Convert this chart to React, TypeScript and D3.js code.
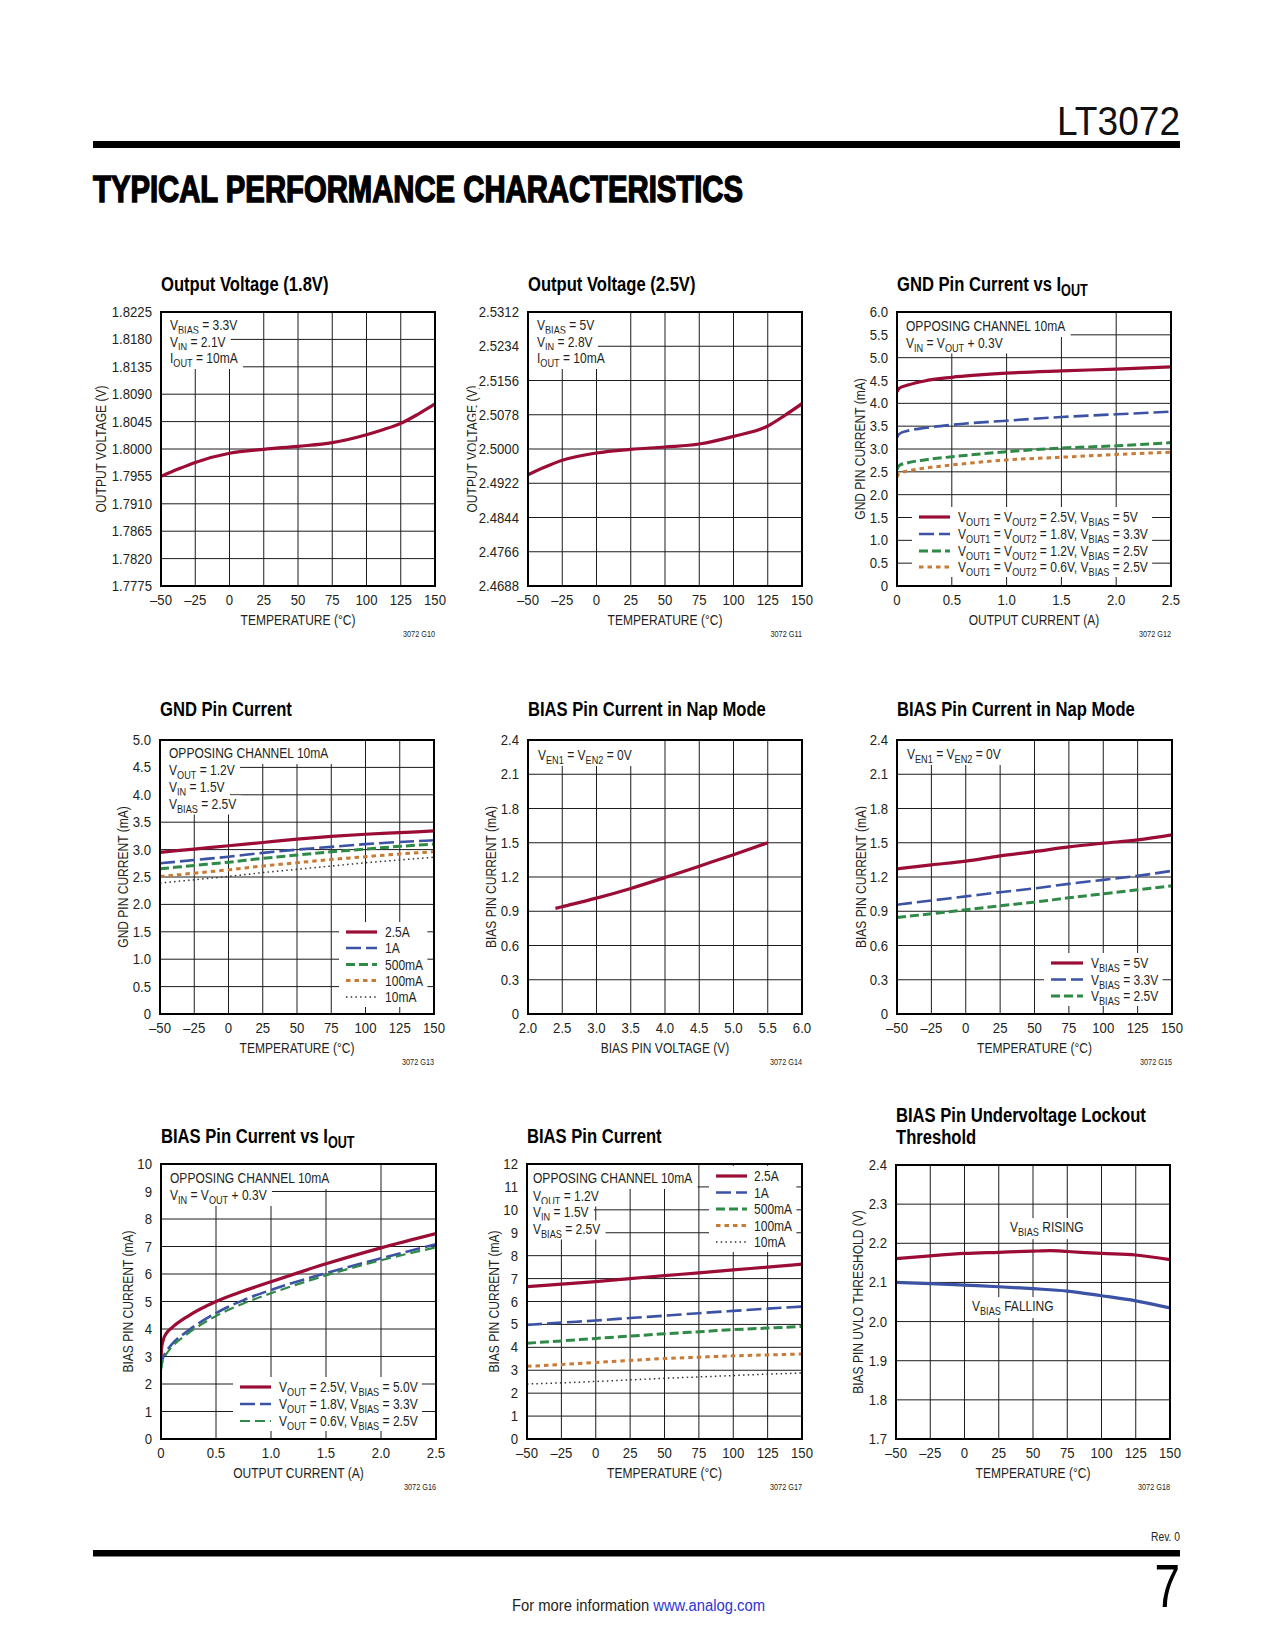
import React, { useEffect, useRef } from "react";
import * as d3 from "d3";

const W = 1275;
const H = 1650;
const FONT = "'Liberation Sans', Arial, Helvetica, sans-serif";
const SX = 0.86; // horizontal squeeze to mimic a condensed face
const SX_NUM = 0.94; // digits of the original face are wider
const SX_BOLD = 0.81;
const INK = "#231f20";
const GRID = "#1c1c1c";

// ---- ticks ----
const tempTicks = [-50, -25, 0, 25, 50, 75, 100, 125, 150];
const tempLabels = ["–50", "–25", "0", "25", "50", "75", "100", "125", "150"];
const ioutTicks = [0, 0.5, 1, 1.5, 2, 2.5];
const ioutLabels = ["0", "0.5", "1.0", "1.5", "2.0", "2.5"];
const biasVTicks = [2, 2.5, 3, 3.5, 4, 4.5, 5, 5.5, 6];
const biasVLabels = ["2.0", "2.5", "3.0", "3.5", "4.0", "4.5", "5.0", "5.5", "6.0"];

const vout18Labels = ["1.7775", "1.7820", "1.7865", "1.7910", "1.7955", "1.8000", "1.8045", "1.8090", "1.8135", "1.8180", "1.8225"];
const vout25Labels = ["2.4688", "2.4766", "2.4844", "2.4922", "2.5000", "2.5078", "2.5156", "2.5234", "2.5312"];
const gnd6Labels = ["0", "0.5", "1.0", "1.5", "2.0", "2.5", "3.0", "3.5", "4.0", "4.5", "5.0", "5.5", "6.0"];
const gnd5Labels = ["0", "0.5", "1.0", "1.5", "2.0", "2.5", "3.0", "3.5", "4.0", "4.5", "5.0"];
const nap24Labels = ["0", "0.3", "0.6", "0.9", "1.2", "1.5", "1.8", "2.1", "2.4"];
const bias10Labels = ["0", "1", "2", "3", "4", "5", "6", "7", "8", "9", "10"];
const bias12Labels = ["0", "1", "2", "3", "4", "5", "6", "7", "8", "9", "10", "11", "12"];
const uvloLabels = ["1.7", "1.8", "1.9", "2.0", "2.1", "2.2", "2.3", "2.4"];

// ---- series ----
const tempPts = [-50, -25, 0, 25, 50, 75, 100, 125, 150];

const vout18Temp = [-50, -37.5, -25, 0, 25, 50, 75, 100, 112.5, 125, 137.5, 150];
const vout18 = [1.7955, 1.7967, 1.7978, 1.7993, 1.79995, 1.80044, 1.80104, 1.80235, 1.8032, 1.80421, 1.8057, 1.8074];

const vout25Temp = [-50, -37.5, -25, 0, 25, 50, 75, 100, 125, 137.5, 150];
const vout25 = [2.49415, 2.4959, 2.49742, 2.49909, 2.49992, 2.50046, 2.50114, 2.50288, 2.50524, 2.50767, 2.51032];

const gndIout = [0, 0.02, 0.1, 0.25, 0.5, 1.0, 1.5, 2.0, 2.5];
const gndIout25 = [4.25, 4.33, 4.4, 4.49, 4.57, 4.66, 4.71, 4.75, 4.8];
const gndIout18 = [3.25, 3.33, 3.4, 3.46, 3.53, 3.62, 3.7, 3.76, 3.82];
const gndIout12 = [2.55, 2.64, 2.7, 2.76, 2.83, 2.94, 3.02, 3.07, 3.14];
const gndIout06 = [2.38, 2.47, 2.52, 2.58, 2.65, 2.76, 2.82, 2.88, 2.93];

const gndT2500 = [2.95, 3.01, 3.07, 3.13, 3.19, 3.24, 3.28, 3.31, 3.34];
const gndT1000 = [2.75, 2.81, 2.87, 2.94, 3.0, 3.05, 3.1, 3.14, 3.17];
const gndT500 = [2.65, 2.71, 2.77, 2.84, 2.9, 2.96, 3.01, 3.06, 3.1];
const gndT100 = [2.51, 2.57, 2.63, 2.7, 2.76, 2.82, 2.87, 2.92, 2.96];
const gndT10 = [2.39, 2.45, 2.51, 2.58, 2.64, 2.7, 2.76, 2.81, 2.86];

const napV = [2.4, 2.5, 3.0, 3.5, 4.0, 4.5, 5.0, 5.5];
const napI = [0.925, 0.94, 1.015, 1.1, 1.195, 1.295, 1.395, 1.5];

const napT5 = [1.271, 1.306, 1.339, 1.385, 1.423, 1.464, 1.496, 1.525, 1.569];
const napT33 = [0.957, 0.994, 1.03, 1.067, 1.1, 1.14, 1.175, 1.21, 1.254];
const napT25 = [0.846, 0.878, 0.913, 0.948, 0.98, 1.018, 1.053, 1.088, 1.123];

const biasIoutRed = [0, 0.005, 0.02, 0.05, 0.1, 0.25, 0.5, 0.75, 1.0, 1.25, 1.5, 2.0, 2.5];
const biasI25 = [2.9, 3.3, 3.6, 3.85, 4.05, 4.48, 5.0, 5.38, 5.72, 6.05, 6.37, 6.95, 7.47];
const biasIoutPts = [0, 0.01, 0.03, 0.05, 0.1, 0.25, 0.5, 0.75, 1.0, 1.5, 2.0, 2.5];
const biasI18 = [2.6, 2.85, 3.05, 3.2, 3.45, 3.95, 4.58, 5.05, 5.42, 6.03, 6.57, 7.08];
const biasI06 = [2.5, 2.75, 2.97, 3.1, 3.35, 3.85, 4.47, 4.93, 5.3, 5.95, 6.5, 6.97];

const biasT2500 = [6.65, 6.76, 6.87, 7.0, 7.13, 7.25, 7.38, 7.5, 7.63];
const biasT1000 = [4.98, 5.08, 5.17, 5.28, 5.38, 5.49, 5.59, 5.69, 5.78];
const biasT500 = [4.18, 4.28, 4.39, 4.49, 4.59, 4.68, 4.77, 4.84, 4.91];
const biasT100 = [3.17, 3.25, 3.34, 3.43, 3.51, 3.57, 3.63, 3.67, 3.71];
const biasT10 = [2.4, 2.45, 2.51, 2.58, 2.65, 2.71, 2.77, 2.83, 2.88];

const uvloRiseT = [-50, -25, 0, 25, 50, 62.5, 75, 100, 125, 150];
const uvloRise = [2.161, 2.168, 2.174, 2.177, 2.18, 2.181, 2.179, 2.174, 2.17, 2.158];
const uvloFall = [2.1, 2.097, 2.093, 2.089, 2.084, 2.078, 2.066, 2.053, 2.035];

// ---- line styles ----
type Style = { color: string; width: number; dash?: string };
const RED: Style = { color: "#9b0d35", width: 3.2 };
const BLUE: Style = { color: "#3c52a4", width: 2.6, dash: "15,5" };
const BLUE_SOLID: Style = { color: "#3c52a4", width: 3.2 };
const GREEN: Style = { color: "#2f8a47", width: 3, dash: "9,4" };
const GREEN_THIN: Style = { color: "#2f8a47", width: 2.2, dash: "10,5" };
const ORANGE: Style = { color: "#c77b36", width: 3, dash: "4.5,4" };
const DOT: Style = { color: "#333", width: 1.5, dash: "1.5,3.2" };

type Series = { xs: number[]; ys: number[]; style: Style };
type Chart = {
  box: [number, number, number, number];
  title: string[];
  titleY: number[];
  xDomain: [number, number];
  xTicks: number[];
  xLabels: string[];
  yLabels: string[];
  xTitle: string;
  yTitle: string;
  yTitleX: number;
  id: string;
  series: Series[];
  notes?: { x: number; ys: number[]; lines: string[] };
  legend?: { rows: number[]; x0: number; x1: number; tx: number; items: [string, Style][] };
  labels?: { x: number; y: number; text: string }[];
};

const charts: Chart[] = [
  {
    box: [161, 312, 274, 274],
    title: ["Output Voltage (1.8V)"],
    titleY: [291],
    xDomain: [-50, 150], xTicks: tempTicks, xLabels: tempLabels,
    yLabels: vout18Labels,
    xTitle: "TEMPERATURE (°C)", yTitle: "OUTPUT VOLTAGE (V)", yTitleX: 106,
    id: "3072 G10",
    series: [{ xs: vout18Temp, ys: vout18, style: RED }],
    notes: { x: 170, ys: [330, 346.5, 363], lines: ["V_{BIAS} = 3.3V", "V_{IN} = 2.1V", "I_{OUT} = 10mA"] },
  },
  {
    box: [528, 312, 274, 274],
    title: ["Output Voltage (2.5V)"],
    titleY: [291],
    xDomain: [-50, 150], xTicks: tempTicks, xLabels: tempLabels,
    yLabels: vout25Labels,
    xTitle: "TEMPERATURE (°C)", yTitle: "OUTPUT VOLTAGE (V)", yTitleX: 477,
    id: "3072 G11",
    series: [{ xs: vout25Temp, ys: vout25, style: RED }],
    notes: { x: 537, ys: [330, 346.5, 363], lines: ["V_{BIAS} = 5V", "V_{IN} = 2.8V", "I_{OUT} = 10mA"] },
  },
  {
    box: [897, 312, 274, 274],
    title: ["GND Pin Current vs I_{OUT}"],
    titleY: [291],
    xDomain: [0, 2.5], xTicks: ioutTicks, xLabels: ioutLabels,
    yLabels: gnd6Labels,
    xTitle: "OUTPUT CURRENT (A)", yTitle: "GND PIN CURRENT (mA)", yTitleX: 865,
    id: "3072 G12",
    series: [
      { xs: gndIout, ys: gndIout25, style: RED },
      { xs: gndIout, ys: gndIout18, style: BLUE },
      { xs: gndIout, ys: gndIout12, style: GREEN },
      { xs: gndIout, ys: gndIout06, style: ORANGE },
    ],
    notes: { x: 906, ys: [331, 347.5], lines: ["OPPOSING CHANNEL 10mA", "V_{IN} = V_{OUT} + 0.3V"] },
    legend: {
      rows: [517, 534, 551, 567], x0: 919, x1: 950, tx: 958,
      items: [
        ["V_{OUT1} = V_{OUT2} = 2.5V, V_{BIAS} = 5V", RED],
        ["V_{OUT1} = V_{OUT2} = 1.8V, V_{BIAS} = 3.3V", BLUE],
        ["V_{OUT1} = V_{OUT2} = 1.2V, V_{BIAS} = 2.5V", GREEN],
        ["V_{OUT1} = V_{OUT2} = 0.6V, V_{BIAS} = 2.5V", ORANGE],
      ],
    },
  },
  {
    box: [160, 740, 274, 274],
    title: ["GND Pin Current"],
    titleY: [716],
    xDomain: [-50, 150], xTicks: tempTicks, xLabels: tempLabels,
    yLabels: gnd5Labels,
    xTitle: "TEMPERATURE (°C)", yTitle: "GND PIN CURRENT (mA)", yTitleX: 128,
    id: "3072 G13",
    series: [
      { xs: tempPts, ys: gndT2500, style: RED },
      { xs: tempPts, ys: gndT1000, style: BLUE },
      { xs: tempPts, ys: gndT500, style: GREEN },
      { xs: tempPts, ys: gndT100, style: ORANGE },
      { xs: tempPts, ys: gndT10, style: DOT },
    ],
    notes: { x: 169, ys: [758, 775, 792, 808.5], lines: ["OPPOSING CHANNEL 10mA", "V_{OUT} = 1.2V", "V_{IN} = 1.5V", "V_{BIAS} = 2.5V"] },
    legend: {
      rows: [932, 948, 964.5, 980.5, 997], x0: 346, x1: 377, tx: 385,
      items: [["2.5A", RED], ["1A", BLUE], ["500mA", GREEN], ["100mA", ORANGE], ["10mA", DOT]],
    },
  },
  {
    box: [528, 740, 274, 274],
    title: ["BIAS Pin Current in Nap Mode"],
    titleY: [716],
    xDomain: [2, 6], xTicks: biasVTicks, xLabels: biasVLabels,
    yLabels: nap24Labels,
    xTitle: "BIAS PIN VOLTAGE (V)", yTitle: "BIAS PIN CURRENT (mA)", yTitleX: 496,
    id: "3072 G14",
    series: [{ xs: napV, ys: napI, style: RED }],
    notes: { x: 538, ys: [760], lines: ["V_{EN1} = V_{EN2} = 0V"] },
  },
  {
    box: [897, 740, 275, 274],
    title: ["BIAS Pin Current in Nap Mode"],
    titleY: [716],
    xDomain: [-50, 150], xTicks: tempTicks, xLabels: tempLabels,
    yLabels: nap24Labels,
    xTitle: "TEMPERATURE (°C)", yTitle: "BIAS PIN CURRENT (mA)", yTitleX: 866,
    id: "3072 G15",
    series: [
      { xs: tempPts, ys: napT5, style: RED },
      { xs: tempPts, ys: napT33, style: BLUE },
      { xs: tempPts, ys: napT25, style: GREEN },
    ],
    notes: { x: 907, ys: [759], lines: ["V_{EN1} = V_{EN2} = 0V"] },
    legend: {
      rows: [963, 979.5, 996], x0: 1051, x1: 1083, tx: 1091,
      items: [["V_{BIAS} = 5V", RED], ["V_{BIAS} = 3.3V", BLUE], ["V_{BIAS} = 2.5V", GREEN]],
    },
  },
  {
    box: [161, 1164, 275, 275],
    title: ["BIAS Pin Current vs I_{OUT}"],
    titleY: [1143],
    xDomain: [0, 2.5], xTicks: ioutTicks, xLabels: ioutLabels,
    yLabels: bias10Labels,
    xTitle: "OUTPUT CURRENT (A)", yTitle: "BIAS PIN CURRENT (mA)", yTitleX: 133,
    id: "3072 G16",
    series: [
      { xs: biasIoutRed, ys: biasI25, style: RED },
      { xs: biasIoutPts, ys: biasI18, style: BLUE },
      { xs: biasIoutPts, ys: biasI06, style: GREEN_THIN },
    ],
    notes: { x: 170, ys: [1183, 1200], lines: ["OPPOSING CHANNEL 10mA", "V_{IN} = V_{OUT} + 0.3V"] },
    legend: {
      rows: [1387, 1404, 1421], x0: 240, x1: 271, tx: 279,
      items: [
        ["V_{OUT} = 2.5V, V_{BIAS} = 5.0V", RED],
        ["V_{OUT} = 1.8V, V_{BIAS} = 3.3V", BLUE],
        ["V_{OUT} = 0.6V, V_{BIAS} = 2.5V", GREEN_THIN],
      ],
    },
  },
  {
    box: [527, 1164, 275, 275],
    title: ["BIAS Pin Current"],
    titleY: [1143],
    xDomain: [-50, 150], xTicks: tempTicks, xLabels: tempLabels,
    yLabels: bias12Labels,
    xTitle: "TEMPERATURE (°C)", yTitle: "BIAS PIN CURRENT (mA)", yTitleX: 499,
    id: "3072 G17",
    series: [
      { xs: tempPts, ys: biasT2500, style: RED },
      { xs: tempPts, ys: biasT1000, style: BLUE },
      { xs: tempPts, ys: biasT500, style: GREEN },
      { xs: tempPts, ys: biasT100, style: ORANGE },
      { xs: tempPts, ys: biasT10, style: DOT },
    ],
    notes: { x: 533, ys: [1183, 1200.5, 1217, 1233.5], lines: ["OPPOSING CHANNEL 10mA", "V_{OUT} = 1.2V", "V_{IN} = 1.5V", "V_{BIAS} = 2.5V"] },
    legend: {
      rows: [1176, 1192.5, 1209, 1225.5, 1242], x0: 716, x1: 747, tx: 754,
      items: [["2.5A", RED], ["1A", BLUE], ["500mA", GREEN], ["100mA", ORANGE], ["10mA", DOT]],
    },
  },
  {
    box: [896, 1165, 274, 274],
    title: ["BIAS Pin Undervoltage Lockout", "Threshold"],
    titleY: [1122, 1143.5],
    xDomain: [-50, 150], xTicks: tempTicks, xLabels: tempLabels,
    yLabels: uvloLabels,
    xTitle: "TEMPERATURE (°C)", yTitle: "BIAS PIN UVLO THRESHOLD (V)", yTitleX: 863,
    id: "3072 G18",
    series: [
      { xs: uvloRiseT, ys: uvloRise, style: RED },
      { xs: tempPts, ys: uvloFall, style: BLUE_SOLID },
    ],
    labels: [
      { x: 1010, y: 1232, text: "V_{BIAS} RISING" },
      { x: 972, y: 1311, text: "V_{BIAS} FALLING" },
    ],
  },
];

type Sel = d3.Selection<any, unknown, null, undefined>;

// "V_{BIAS} = 3.3V" -> tspans with subscripts
function rich(t: Sel, s: string, size: number, drop = 4) {
  const parts = s.split(/(_\{[^}]*\})/);
  let down = false;
  parts.forEach((p) => {
    if (!p) return;
    if (p.startsWith("_{")) {
      t.append("tspan").attr("font-size", size * 0.76).attr("dy", down ? 0 : drop).text(p.slice(2, -1));
      down = true;
    } else {
      const ts = t.append("tspan").text(p);
      if (down) ts.attr("dy", -drop);
      down = false;
    }
  });
}

// condensed text: squeezed around its own anchor point
function ctext(
  parent: Sel, x: number, y: number, size: number, s: string,
  anchor = "start", sx = SX, drop = 4, rotate = 0,
) {
  const t = parent
    .append("text")
    .attr("transform", `translate(${x},${y})${rotate ? ` rotate(${rotate})` : ""} scale(${sx},1)`)
    .attr("font-size", size)
    .attr("text-anchor", anchor);
  rich(t, s, size, drop);
  return t;
}

function boxOf(t: Sel, x: number, y: number, sx = SX) {
  const b = (t.node() as SVGTextElement).getBBox();
  return { x: x + b.x * sx, y: y + b.y, w: b.width * sx, h: b.height };
}

function drawChart(svg: Sel, c: Chart, k: number) {
  const [bx, by, bw, bh] = c.box;
  const yTicks = c.yLabels.map(Number);
  const x = d3.scaleLinear().domain(c.xDomain).range([bx, bx + bw]);
  const y = d3.scaleLinear().domain([yTicks[0], yTicks[yTicks.length - 1]]).range([by + bh, by]);
  const g = svg.append("g").attr("font-family", FONT).attr("fill", INK);

  const clipId = `plot-clip-${k}`;
  g.append("clipPath").attr("id", clipId).append("rect").attr("x", bx).attr("y", by).attr("width", bw).attr("height", bh);

  // grid
  g.append("g")
    .selectAll("line")
    .data(c.xTicks)
    .join("line")
    .attr("x1", (d) => x(d)).attr("x2", (d) => x(d))
    .attr("y1", by).attr("y2", by + bh)
    .attr("stroke", GRID).attr("stroke-width", 1);
  g.append("g")
    .selectAll("line")
    .data(yTicks)
    .join("line")
    .attr("x1", bx).attr("x2", bx + bw)
    .attr("y1", (d) => y(d)).attr("y2", (d) => y(d))
    .attr("stroke", GRID).attr("stroke-width", 1);

  // curves
  const line = d3
    .line<number[]>()
    .x((d) => x(d[0]))
    .y((d) => y(d[1]))
    .curve(d3.curveMonotoneX);
  c.series.forEach((s) => {
    g.append("path")
      .datum(d3.zip(s.xs, s.ys))
      .attr("d", line)
      .attr("fill", "none")
      .attr("stroke", s.style.color)
      .attr("stroke-width", s.style.width)
      .attr("stroke-dasharray", s.style.dash ?? null)
      .attr("clip-path", `url(#${clipId})`);
  });

  // conditions box, one white strip per line
  if (c.notes) {
    const n = c.notes;
    const ng = g.append("g");
    n.lines.forEach((txt, i) => {
      const t = ctext(ng, n.x, n.ys[i], 14, txt);
      const b = boxOf(t, n.x, n.ys[i]);
      const top = i === 0 ? by + 1 : n.ys[i] - 13;
      ng.insert("rect", () => t.node())
        .attr("x", bx + 1)
        .attr("y", top)
        .attr("width", b.x + b.w + 5 - bx - 1)
        .attr("height", n.ys[i] + 6 - top)
        .attr("fill", "#fff");
    });
  }

  // legend
  if (c.legend) {
    const L = c.legend;
    const lg = g.append("g");
    let right = L.x1;
    L.items.forEach(([label, st], i) => {
      const cy = L.rows[i];
      lg.append("line")
        .attr("x1", L.x0).attr("x2", L.x1)
        .attr("y1", cy).attr("y2", cy)
        .attr("stroke", st.color)
        .attr("stroke-width", st.width)
        .attr("stroke-dasharray", st.dash ?? null);
      const t = ctext(lg, L.tx, cy + 5, 14, label);
      const b = boxOf(t, L.tx, cy + 5);
      right = Math.max(right, b.x + b.w);
    });
    const top = L.rows[0] - 10;
    const bottom = L.rows[L.rows.length - 1] + 10;
    lg.insert("rect", ":first-child")
      .attr("x", L.x0 - 7)
      .attr("y", top)
      .attr("width", right + 4 - (L.x0 - 7))
      .attr("height", bottom - top)
      .attr("fill", "#fff");
  }

  // free labels
  (c.labels ?? []).forEach((l) => {
    const t = ctext(g, l.x, l.y, 14, l.text);
    const b = boxOf(t, l.x, l.y);
    g.insert("rect", () => t.node())
      .attr("x", b.x - 3).attr("y", b.y - 1)
      .attr("width", b.w + 6).attr("height", b.h + 2)
      .attr("fill", "#fff");
  });

  // frame
  g.append("rect")
    .attr("x", bx).attr("y", by).attr("width", bw).attr("height", bh)
    .attr("fill", "none").attr("stroke", "#000").attr("stroke-width", 2);

  // y title (tick labels may sit over it)
  ctext(g, c.yTitleX, by + bh / 2, 14, c.yTitle, "middle", SX, 4, -90);

  // y tick labels, each on a white chip
  const yl = g.append("g");
  c.yLabels.forEach((lab, i) => {
    const ty = y(yTicks[i]) + 5;
    const t = ctext(yl, bx - 9, ty, 14, lab, "end", SX_NUM);
    const b = boxOf(t, bx - 9, ty, SX_NUM);
    yl.insert("rect", () => t.node())
      .attr("x", b.x - 3).attr("y", b.y)
      .attr("width", b.w + 4).attr("height", b.h)
      .attr("fill", "#fff");
  });

  // x tick labels
  c.xTicks.forEach((v, i) => ctext(g, x(v), by + bh + 19, 14, c.xLabels[i], "middle", SX_NUM));

  ctext(g, bx + bw / 2, by + bh + 39, 14, c.xTitle, "middle");
  ctext(g, bx + bw, by + bh + 51, 8.5, c.id, "end");

  // chart title
  c.title.forEach((tl, i) => {
    const t = ctext(g, bx, c.titleY[i], 20.5, tl, "start", SX_BOLD, 5);
    t.attr("font-weight", "bold").attr("fill", "#000");
  });
}

function drawPage(svg: Sel) {
  svg.append("rect").attr("width", W).attr("height", H).attr("fill", "#fff");
  const g = svg.append("g").attr("font-family", FONT).attr("fill", "#000");

  g.append("text")
    .attr("x", 1180).attr("y", 135)
    .attr("text-anchor", "end")
    .attr("font-size", 41)
    .attr("fill", "#111")
    .attr("textLength", 123)
    .attr("lengthAdjust", "spacingAndGlyphs")
    .text("LT3072");
  g.append("rect").attr("x", 93).attr("y", 141).attr("width", 1087).attr("height", 7);

  g.append("text")
    .attr("x", 93).attr("y", 202)
    .attr("font-size", 36)
    .attr("font-weight", "bold")
    .attr("stroke", "#000").attr("stroke-width", 1.4)
    .attr("textLength", 650)
    .attr("lengthAdjust", "spacingAndGlyphs")
    .text("TYPICAL PERFORMANCE CHARACTERISTICS");

  ctext(g, 1180, 1541, 12, "Rev. 0", "end").attr("fill", INK);
  g.append("rect").attr("x", 93).attr("y", 1550).attr("width", 1087).attr("height", 6.5);

  ctext(g, 1180, 1607, 62, "7", "end", 0.74);

  const f = g.append("text")
    .attr("x", 512).attr("y", 1611)
    .attr("font-size", 16)
    .attr("fill", INK)
    .attr("textLength", 253)
    .attr("lengthAdjust", "spacingAndGlyphs");
  f.append("tspan").text("For more information ");
  f.append("tspan").attr("fill", "#2b35d6").text("www.analog.com");
}

export default function App() {
  const svgRef = useRef<SVGSVGElement | null>(null);

  useEffect(() => {
    if (!svgRef.current) return;
    const svg = d3.select(svgRef.current);
    svg.selectAll("*").remove();
    drawPage(svg as Sel);
    charts.forEach((c, i) => drawChart(svg as Sel, c, i));
  }, []);

  return (
    <svg
      ref={svgRef}
      width={W}
      height={H}
      style={{ position: "absolute", left: 0, top: 0, display: "block" }}
    />
  );
}
